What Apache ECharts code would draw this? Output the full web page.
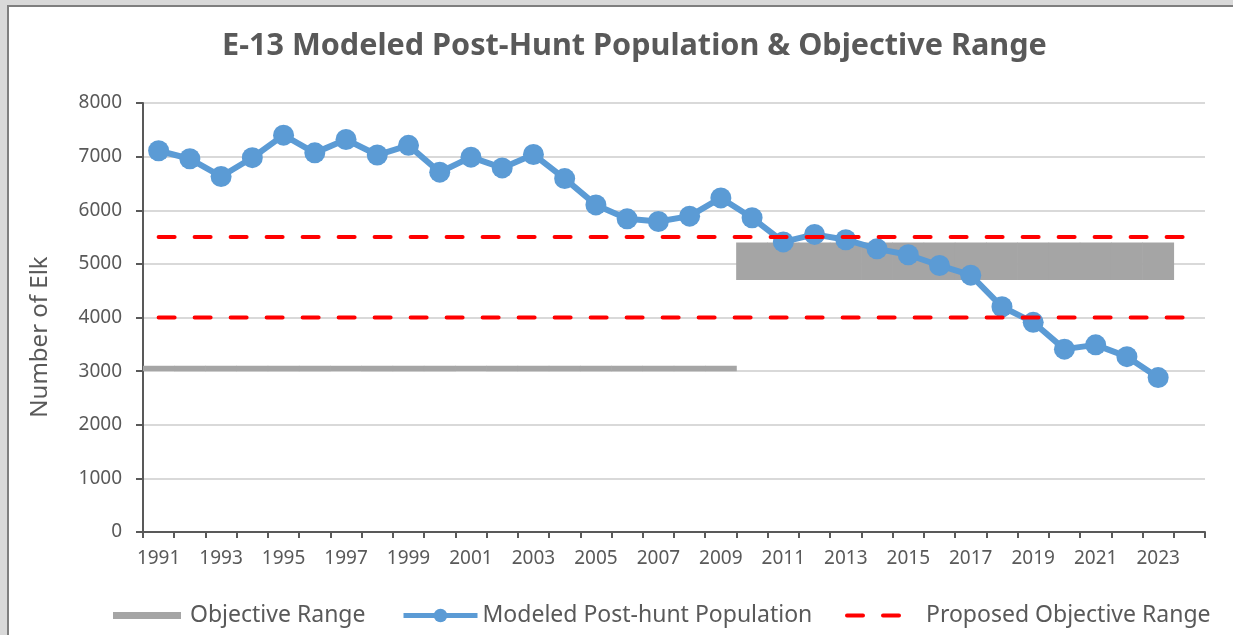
<!DOCTYPE html>
<html lang="en">
<head>
<meta charset="UTF-8">
<title>E-13 Modeled Post-Hunt Population</title>
<script src="https://cdn.jsdelivr.net/npm/echarts@6/dist/echarts.min.js"></script>
<style>
    body {
        margin: 0;
        padding: 0;
        background: #d9d9d9;
        overflow: hidden;
    }
    .frame {
        position: absolute;
        left: 7px;
        top: 5px;
        right: 0;
        bottom: 0;
        background: #fff;
        border-left: 2px solid #7f7f7f;
        border-top: 2px solid #7f7f7f;
    }
    #chart {
        position: absolute;
        left: 0;
        top: 0;
        width: 1233px;
        height: 635px;
    }
</style>
</head>
<body>
<div class="frame"></div>
<div id="chart"></div>
<script>
    var years = ['1991','1992','1993','1994','1995','1996','1997','1998','1999','2000',
                 '2001','2002','2003','2004','2005','2006','2007','2008','2009','2010',
                 '2011','2012','2013','2014','2015','2016','2017','2018','2019','2020',
                 '2021','2022','2023','2024'];

    // modeled post-hunt population
    var population = [7110,6960,6630,6980,7400,7070,7320,7030,7210,6710,
                      6990,6790,7040,6590,6100,5840,5790,5890,6230,5860,
                      5410,5550,5450,5280,5170,4970,4790,4200,3910,3410,
                      3490,3270,2880,null];

    // objective range: invisible base + visible span (stacked)
    var objectiveLow = [3000,3000,3000,3000,3000,3000,3000,3000,3000,3000,
                        3000,3000,3000,3000,3000,3000,3000,3000,3000,4700,
                        4700,4700,4700,4700,4700,4700,4700,4700,4700,4700,
                        4700,4700,4700,null];
    var objectiveSpan = [100,100,100,100,100,100,100,100,100,100,
                         100,100,100,100,100,100,100,100,100,700,
                         700,700,700,700,700,700,700,700,700,700,
                         700,700,700,null];

    // proposed objective range
    var proposedHigh = [5500,5500,5500,5500,5500,5500,5500,5500,5500,5500,
                        5500,5500,5500,5500,5500,5500,5500,5500,5500,5500,
                        5500,5500,5500,5500,5500,5500,5500,5500,5500,5500,
                        5500,5500,5500,5500];
    var proposedLow = [4000,4000,4000,4000,4000,4000,4000,4000,4000,4000,
                       4000,4000,4000,4000,4000,4000,4000,4000,4000,4000,
                       4000,4000,4000,4000,4000,4000,4000,4000,4000,4000,
                       4000,4000,4000,4000];

    var txt = '#595959';
    var font = '"Noto Sans", sans-serif';

    var myChart = echarts.init(document.getElementById('chart'));
    var redLine = {color: '#ff0000', width: 4, type: [16, 20], cap: 'round'};

    var option = {
        animation: false,
        textStyle: {fontFamily: font},
        title: {
            text: 'E-13 Modeled Post-Hunt Population & Objective Range',
            left: 222,
            top: 31,
            padding: 0,
            textStyle: {fontSize: 30.6, fontWeight: 'bold', color: txt, fontFamily: font}
        },
        graphic: [{
            type: 'text',
            x: 40, y: 337,
            rotation: Math.PI / 2,
            style: {
                text: 'Number of Elk',
                fontSize: 24, fontFamily: font, fill: txt,
                align: 'center', verticalAlign: 'middle'
            }
        }],
        legend: [{
            data: ['Objective Range'],
            left: 113, top: 604, padding: 0,
            icon: 'rect', itemWidth: 68, itemHeight: 7,
            textStyle: {fontSize: 23, color: txt, padding: [0, 0, 0, 4]}
        }, {
            data: ['Modeled Post-hunt Population'],
            left: 401, top: 604, padding: 0,
            itemWidth: 74, itemHeight: 17,
            lineStyle: {width: 5},
            textStyle: {fontSize: 23, color: txt}
        }, {
            data: ['Proposed Objective Range'],
            left: 845, top: 604, padding: 0,
            itemWidth: 58, itemHeight: 14,
            itemStyle: {opacity: 0},
            lineStyle: {width: 4, type: [16, 20], cap: 'round'},
            textStyle: {fontSize: 23, color: txt, padding: [0, 0, 0, 16]}
        }],
        grid: {left: 143, right: 28, top: 103, bottom: 103},
        xAxis: {
            type: 'category',
            data: years,
            boundaryGap: true,
            axisLine: {lineStyle: {color: txt, width: 2}},
            axisTick: {show: true, interval: 0, length: 6, lineStyle: {color: txt, width: 2}},
            axisLabel: {interval: 1, fontSize: 19, color: txt, margin: 17}
        },
        yAxis: {
            type: 'value',
            min: 0, max: 8000, interval: 1000,
            axisLine: {show: true, lineStyle: {color: txt, width: 2}},
            axisTick: {show: true, length: 7, lineStyle: {color: txt, width: 2}},
            axisLabel: {fontSize: 19, color: txt, margin: 21, formatter: function (v) { return String(v); }},
            splitLine: {lineStyle: {color: '#d9d9d9', width: 2}}
        },
        series: [{
            name: 'base',
            type: 'bar',
            stack: 'obj',
            data: objectiveLow,
            barWidth: '102%',
            itemStyle: {color: 'transparent'},
            silent: true
        }, {
            name: 'Objective Range',
            type: 'bar',
            stack: 'obj',
            data: objectiveSpan,
            barWidth: '102%',
            itemStyle: {color: '#a5a5a5'}
        }, {
            name: 'Modeled Post-hunt Population',
            type: 'line',
            data: population,
            symbol: 'circle',
            symbolSize: 21,
            showAllSymbol: true,
            lineStyle: {color: '#5b9bd5', width: 6},
            itemStyle: {color: '#5b9bd5'},
            z: 3
        }, {
            name: 'Proposed Objective Range',
            type: 'line',
            data: proposedHigh,
            symbol: 'none',
            lineStyle: redLine,
            itemStyle: {color: '#ff0000'},
            z: 4
        }, {
            name: 'Proposed Objective Range',
            type: 'line',
            data: proposedLow,
            symbol: 'none',
            lineStyle: redLine,
            itemStyle: {color: '#ff0000'},
            z: 4
        }]
    };
    myChart.setOption(option);
</script>
</body>
</html>
